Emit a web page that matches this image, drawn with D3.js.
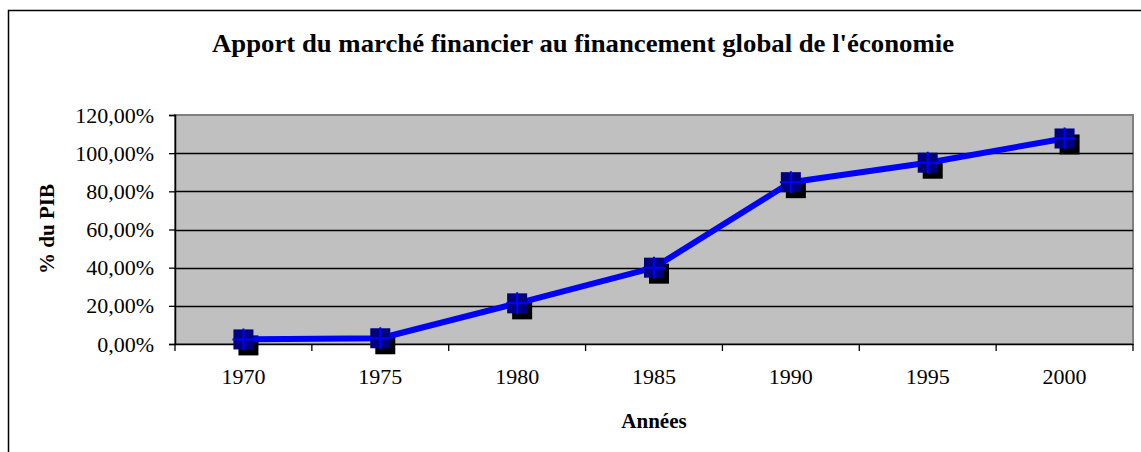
<!DOCTYPE html>
<html>
<head>
<meta charset="utf-8">
<script src="https://cdn.jsdelivr.net/npm/d3@7"></script>
<style>
  body { margin: 0; background: #fff; }
  svg text { font-family: "Times New Roman", Times, "Liberation Serif", Tinos, "Nimbus Roman", serif; }
</style>
</head>
<body>
<svg id="chart" width="1141" height="452"></svg>
<script>
// data
var years = ["1970", "1975", "1980", "1985", "1990", "1995", "2000"];
var pctPib = [0.024, 0.030, 0.213, 0.400, 0.848, 0.950, 1.077];
var yTicks = [0, 0.2, 0.4, 0.6, 0.8, 1.0, 1.2];

var svg = d3.select("#chart");
var W = 1141, H = 452;
var plot = {left: 175, right: 1133, top: 115, bottom: 344};

// outer chart frame
svg.append("rect").attr("x", 8.5).attr("y", 10.5)
  .attr("width", W).attr("height", H)
  .attr("fill", "#fff").attr("stroke", "#000").attr("stroke-width", 1.5);

var x = d3.scaleBand().domain(years).range([plot.left, plot.right]).padding(0);
var y = d3.scaleLinear().domain([0, 1.2]).range([plot.bottom, plot.top]);
var fmt = function(v){ return d3.format(".2f")(v*100).replace(".", ",") + "%"; };

// plot area
svg.append("rect").attr("x", plot.left).attr("y", plot.top)
  .attr("width", plot.right-plot.left).attr("height", plot.bottom-plot.top)
  .attr("fill", "#c0c0c0").attr("stroke", "#808080").attr("stroke-width", 2);

// gridlines
svg.append("g").selectAll("line").data(yTicks.slice(1, -1)).join("line")
  .attr("x1", plot.left).attr("x2", plot.right)
  .attr("y1", function(d){ return Math.round(y(d)) + 0.5; })
  .attr("y2", function(d){ return Math.round(y(d)) + 0.5; })
  .attr("stroke", "#000").attr("stroke-width", 1.3);

// y axis
var yAxis = svg.append("g").attr("transform", "translate(" + plot.left + ",0)")
  .call(d3.axisLeft(y).tickValues(yTicks).tickFormat(fmt).tickSize(6).tickPadding(15));
yAxis.attr("font-family", null);
yAxis.select(".domain").attr("stroke", "#000").attr("stroke-width", 1.5);
yAxis.selectAll(".tick line").attr("stroke", "#000").attr("stroke-width", 1.3);
yAxis.selectAll("text").attr("font-size", 22).attr("fill", "#000");

// x axis, ticks between categories
var xAxis = svg.append("g").attr("transform", "translate(0," + plot.bottom + ")")
  .call(d3.axisBottom(x).tickSize(0).tickPadding(24));
xAxis.attr("font-family", null);
xAxis.select(".domain").attr("stroke", "#000").attr("stroke-width", 1.5);
xAxis.selectAll("text").attr("font-size", 22).attr("fill", "#000");
xAxis.selectAll(".sep").data(d3.range(years.length + 1)).join("line")
  .attr("class", "sep")
  .attr("x1", function(i){ return plot.left + i * x.bandwidth(); })
  .attr("x2", function(i){ return plot.left + i * x.bandwidth(); })
  .attr("y1", 0).attr("y2", 7)
  .attr("stroke", "#000").attr("stroke-width", 1.3);

// series
var pts = years.map(function(yr, i){ return [x(yr) + x.bandwidth()/2, y(pctPib[i])]; });
var ms = 20;

svg.append("g").selectAll("rect").data(pts).join("rect")
  .attr("x", function(d){ return d[0] - ms/2 + 5; })
  .attr("y", function(d){ return d[1] - ms/2 + 6; })
  .attr("width", ms).attr("height", ms).attr("fill", "#000");

svg.append("path").datum(pts)
  .attr("d", d3.line())
  .attr("fill", "none").attr("stroke", "#0000ff").attr("stroke-width", 6)
  .attr("stroke-linejoin", "round");

var mk = svg.append("g").selectAll("g").data(pts).join("g")
  .attr("transform", function(d){ return "translate(" + d[0] + "," + d[1] + ")"; });
mk.append("rect").attr("x", -ms/2).attr("y", -ms/2).attr("width", ms).attr("height", ms)
  .attr("fill", "#000080");
mk.append("path").attr("d", "M-11,0H11M0,-11V11")
  .attr("stroke", "#0000ff").attr("stroke-width", 2);

// titles
svg.append("text").attr("x", 583).attr("y", 52).attr("text-anchor", "middle")
  .attr("font-size", 26).attr("font-weight", "bold")
  .attr("textLength", 742).attr("lengthAdjust", "spacingAndGlyphs")
  .text("Apport du marché financier au financement global de l'économie");

svg.append("text").attr("x", 654).attr("y", 428).attr("text-anchor", "middle")
  .attr("font-size", 21).attr("font-weight", "bold").text("Années");

svg.append("text").attr("transform", "translate(54,229) rotate(-90)")
  .attr("text-anchor", "middle")
  .attr("font-size", 21).attr("font-weight", "bold").text("% du PIB");
</script>
</body>
</html>
